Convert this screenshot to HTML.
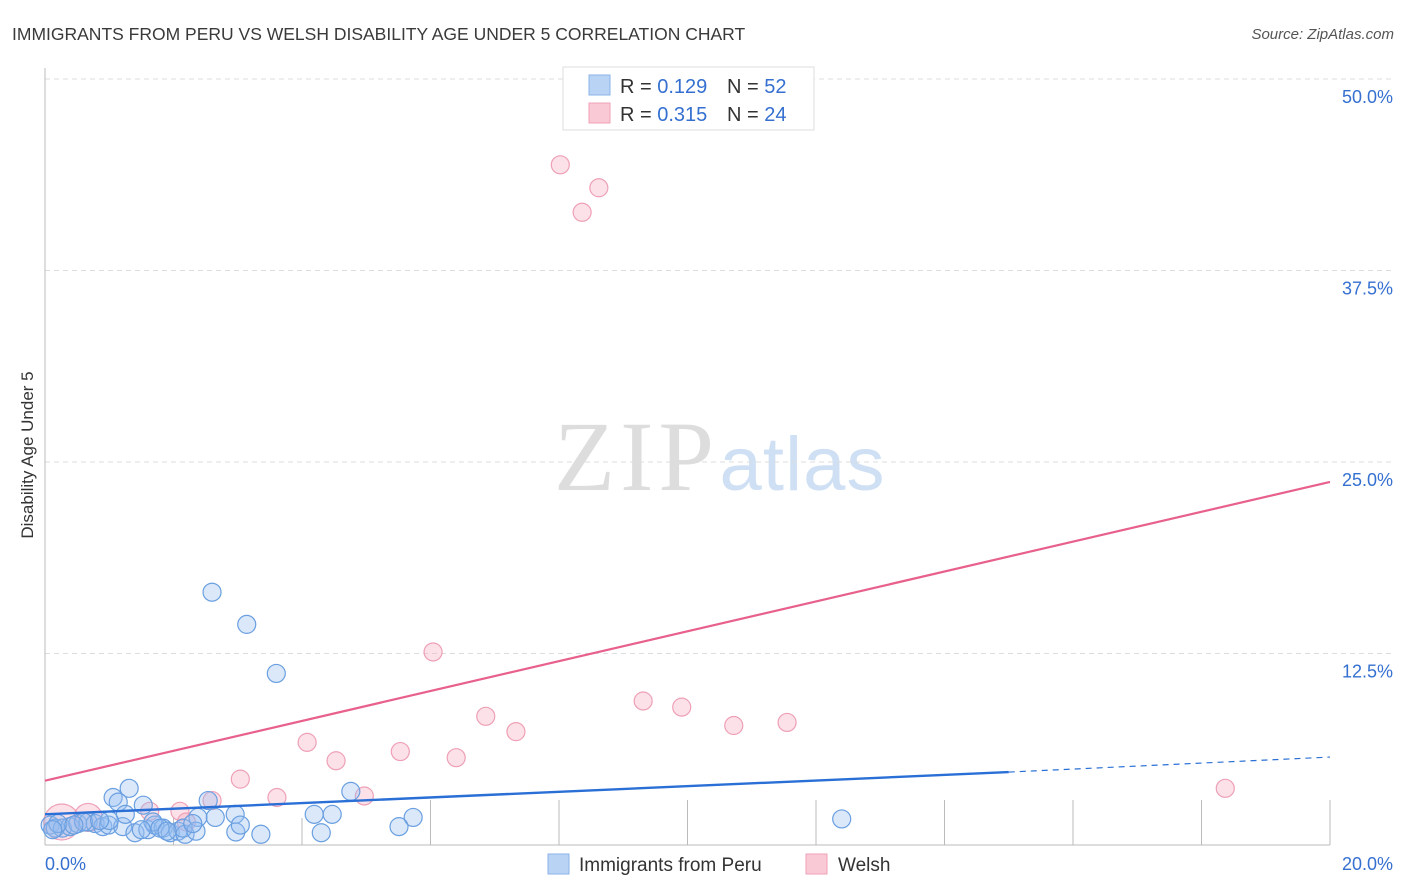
<!DOCTYPE html>
<html><head><meta charset="utf-8"><style>
body{margin:0;background:#fff;font-family:"Liberation Sans",sans-serif;}
svg{display:block}
</style></head><body>
<svg id="chart" width="1406" height="892" xmlns="http://www.w3.org/2000/svg">
<text x="12" y="40" font-size="17.5" fill="#3a3a3a">IMMIGRANTS FROM PERU VS WELSH DISABILITY AGE UNDER 5 CORRELATION CHART</text>
<text x="1394" y="39" font-size="15" fill="#555" font-style="italic" text-anchor="end">Source: ZipAtlas.com</text>
<text x="33" y="455" font-size="17" fill="#333" text-anchor="middle" transform="rotate(-90 33 455)">Disability Age Under 5</text>
<g><text x="634" y="490" font-size="100" fill="#ddd" text-anchor="middle" font-family="Liberation Serif,serif" textLength="160">ZIP</text><text x="802" y="490" font-size="76" fill="#cfe0f4" text-anchor="middle" textLength="165">atlas</text></g>
<g id="grid"></g><g id="axes"></g><g id="marks"></g>
<g>
<rect x="563" y="67" width="251" height="63" fill="#fff" stroke="#ddd"/>
<rect x="589" y="75" width="21" height="20" fill="#b9d3f5" stroke="#8ab3e8"/>
<rect x="589" y="103" width="21" height="20" fill="#f9c9d6" stroke="#efa1b7"/>
<text x="620" y="93" font-size="20" fill="#333">R = <tspan fill="#3570d0">0.129</tspan><tspan x="727">N = </tspan><tspan fill="#3570d0">52</tspan></text>
<text x="620" y="121" font-size="20" fill="#333">R = <tspan fill="#3570d0">0.315</tspan><tspan x="727">N = </tspan><tspan fill="#3570d0">24</tspan></text>
</g>
<g>
<rect x="548" y="854" width="21" height="20" fill="#b9d3f5" stroke="#8ab3e8"/>
<text x="579" y="871" font-size="19" fill="#333">Immigrants from Peru</text>
<rect x="806" y="854" width="21" height="20" fill="#f9c9d6" stroke="#efa1b7"/>
<text x="838" y="871" font-size="19" fill="#333">Welsh</text>
</g>
</svg>
<script>
const yTicks=[12.5,25,37.5,50];
const yTickLabels=["12.5%","25.0%","37.5%","50.0%"];
const xTickVals=[0,2,4,6,8,10,12,14,16,18,20];
const peruX=[2.6,3.14,3.6,4.76,1.31,1.06,1.14,1.53,2.54,2.96,4.19,4.47,5.73,5.51,12.4,3.36,4.3,2.97,2.65,3.04,2.38,0.08,0.16,0.27,0.39,0.51,0.67,0.78,0.9,0.99,1.21,1.4,1.6,1.71,1.84,1.95,2.07,2.18,2.15,2.35,1.25,1.68,1.79,0.2,0.6,1.0,1.9,2.3,0.45,0.12,0.85,1.5];
const peruY=[16.5,14.4,11.2,3.5,3.7,3.1,2.8,2.6,2.9,2.0,2.0,2.0,1.8,1.2,1.7,0.7,0.8,0.85,1.8,1.3,1.8,1.3,1.1,1.1,1.2,1.4,1.5,1.4,1.2,1.3,1.2,0.8,1.0,1.3,1.1,0.8,0.9,0.7,1.1,0.9,2.0,1.5,1.1,1.4,1.5,1.6,0.9,1.4,1.3,1.0,1.6,1.0];
const welshX=[8.02,8.62,8.36,6.04,6.86,7.33,9.31,9.91,10.72,11.55,4.08,4.53,5.53,6.4,3.04,3.61,4.97,18.37,2.6,2.1,1.63,0.67,0.26,2.2];
const welshY=[44.4,42.9,41.3,12.6,8.4,7.4,9.4,9.0,7.8,8.0,6.7,5.5,6.1,5.7,4.3,3.1,3.2,3.7,2.9,2.2,2.2,1.8,1.5,1.5];
const welshR=[9,9,9,9,9,9,9,9,9,9,9,9,9,9,9,9,9,9,9,9,9,14,18,9];
const peruTrend=[[0,2.0],[15,4.76],[20,5.74]];
const welshTrend=[[0,4.2],[20,23.7]];
const NS="http://www.w3.org/2000/svg";
const X=v=>45+v*64.25, Y=v=>845-v*15.32;
function mk(t,a,p){const e=document.createElementNS(NS,t);for(const k in a)e.setAttribute(k,a[k]);p.appendChild(e);return e;}
const grid=document.getElementById('grid'),axes=document.getElementById('axes'),marks=document.getElementById('marks');
yTicks.forEach((v,i)=>{
 const l=mk('line',{x1:45,x2:1394,y1:Y(v),y2:Y(v),stroke:'#ddd','stroke-dasharray':'5,4'},grid);
 
 
 const t=mk('text',{x:1393,y:Y(v)+24,'font-size':18,fill:'#3570d0','text-anchor':'end'},axes);
 t.textContent=yTickLabels[i];
 
 
});
mk('line',{x1:45,x2:45,y1:68,y2:845,stroke:'#bbb'},axes);
mk('line',{x1:45,x2:1330,y1:845,y2:845,stroke:'#bbb'},axes);
xTickVals.forEach(v=>{
 const t=mk('line',{x1:X(v),x2:X(v),y1:v<=4?818:800,y2:845,stroke:'#bbb'},axes);
 
 
});
const xl=mk('text',{x:45,y:870,'font-size':18,fill:'#3570d0'},axes);xl.textContent="0.0%";


const xr=mk('text',{x:1393,y:870,'font-size':18,fill:'#3570d0','text-anchor':'end'},axes);xr.textContent="20.0%";


welshX.forEach((x,i)=>{
 const c=mk('circle',{cx:X(x),cy:Y(welshY[i]),r:welshR[i],fill:'rgba(246,170,192,0.35)',stroke:'#eea0b6','stroke-width':1.2},marks);
 
 
});
peruX.forEach((x,i)=>{
 const c=mk('circle',{cx:X(x),cy:Y(peruY[i]),r:9,fill:'rgba(150,190,240,0.35)',stroke:'#6a9fe0','stroke-width':1.2},marks);
 
 
});
const wl=mk('line',{x1:X(welshTrend[0][0]),y1:Y(welshTrend[0][1]),x2:X(welshTrend[1][0]),y2:Y(welshTrend[1][1]),stroke:'#e8608c','stroke-width':2.2},marks);


const pl=mk('line',{x1:X(peruTrend[0][0]),y1:Y(peruTrend[0][1]),x2:X(peruTrend[1][0]),y2:Y(peruTrend[1][1]),stroke:'#2a6fd6','stroke-width':2.4},marks);


const pd=mk('line',{x1:X(peruTrend[1][0]),y1:Y(peruTrend[1][1]),x2:X(peruTrend[2][0]),y2:Y(peruTrend[2][1]),stroke:'#2a6fd6','stroke-width':1.2,'stroke-dasharray':'6,5'},marks);


</script>
</body></html>
